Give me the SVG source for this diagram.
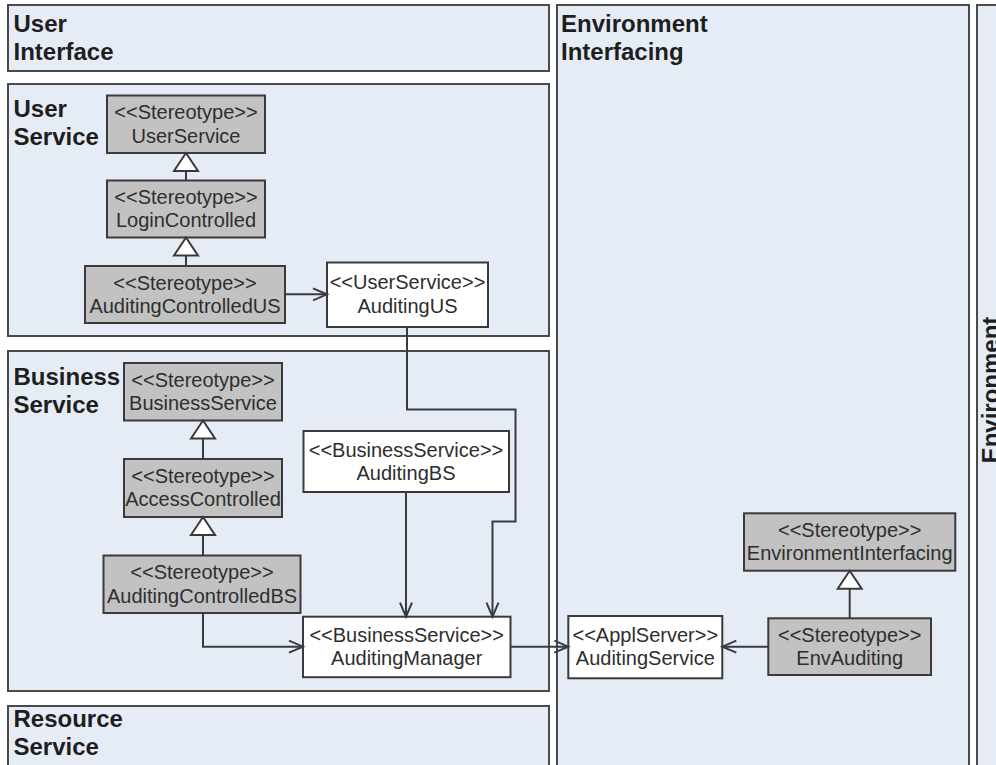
<svg xmlns="http://www.w3.org/2000/svg" width="996" height="765" viewBox="0 0 996 765">
  <defs>
    <style>
      .lane { fill: #e6ecf6; stroke: #4a4a4a; stroke-width: 2; }
      .lane-label { font-family: "Liberation Sans", Arial, sans-serif; font-size: 24px; font-weight: bold; fill: #1e1e1e; }
      .cls { stroke: #3a3a3a; stroke-width: 2; }
      .stereo { fill: #c2c2c2; }
      .plain { fill: #ffffff; }
      .cls-text { font-family: "Liberation Sans", Arial, sans-serif; font-size: 20px; fill: #2e2e2e; text-anchor: middle; }
      .conn { fill: none; stroke: #3a3a44; stroke-width: 2; }
      .gen { marker-end: url(#hollowTriangle); }
      .dep { marker-end: url(#openArrow); }
    </style>
    <!-- generalization: hollow triangle pointing at the parent -->
    <marker id="hollowTriangle" markerUnits="userSpaceOnUse" viewBox="-2 -2 22 28" markerWidth="22" markerHeight="28" refX="18" refY="12" orient="auto" overflow="visible">
      <path d="M0,0 L18,12 L0,24 Z" fill="#ffffff" stroke="#3a3a3a" stroke-width="2" stroke-linejoin="miter"/>
    </marker>
    <!-- dependency: open V arrowhead -->
    <marker id="openArrow" markerUnits="userSpaceOnUse" viewBox="-2 -2 18 16" markerWidth="18" markerHeight="16" refX="14" refY="6" orient="auto" overflow="visible">
      <path d="M0,0 L14,6 L0,12" fill="none" stroke="#3a3a44" stroke-width="2"/>
    </marker>
  </defs>

  <rect x="0" y="0" width="996" height="765" fill="#ffffff"/>

  <!-- layer lanes -->
  <g id="lane-user-interface">
    <rect class="lane" x="8" y="5" width="541" height="66"/>
    <text class="lane-label" x="13.5" y="32">User</text>
    <text class="lane-label" x="13.5" y="60">Interface</text>
  </g>
  <g id="lane-user-service">
    <rect class="lane" x="8" y="84" width="541" height="252"/>
    <text class="lane-label" x="13.5" y="116.5">User</text>
    <text class="lane-label" x="13.5" y="144.5">Service</text>
  </g>
  <g id="lane-business-service">
    <rect class="lane" x="8" y="351" width="541" height="340"/>
    <text class="lane-label" x="13.5" y="384.5">Business</text>
    <text class="lane-label" x="13.5" y="412.5">Service</text>
  </g>
  <g id="lane-resource-service">
    <rect class="lane" x="8" y="706" width="541" height="80"/>
    <text class="lane-label" x="13.5" y="727">Resource</text>
    <text class="lane-label" x="13.5" y="755">Service</text>
  </g>
  <g id="lane-environment-interfacing">
    <rect class="lane" x="557" y="5" width="412" height="780"/>
    <text class="lane-label" x="561" y="32">Environment</text>
    <text class="lane-label" x="561" y="60">Interfacing</text>
  </g>
  <g id="lane-environment">
    <rect class="lane" x="977" y="5" width="40" height="780"/>
    <text class="lane-label" text-anchor="middle" transform="translate(999,390) rotate(-90)">Environment</text>
  </g>

  <!-- classes -->
  <g id="n-userservice">
    <rect class="cls stereo" x="107" y="95.5" width="158" height="57.5"/>
    <text class="cls-text" x="186" y="119.3">&lt;&lt;Stereotype&gt;&gt;</text>
    <text class="cls-text" x="186" y="142.5">UserService</text>
  </g>
  <g id="n-logincontrolled">
    <rect class="cls stereo" x="107" y="180.5" width="158" height="57"/>
    <text class="cls-text" x="186" y="204">&lt;&lt;Stereotype&gt;&gt;</text>
    <text class="cls-text" x="186" y="227">LoginControlled</text>
  </g>
  <g id="n-auditingcontrolledus">
    <rect class="cls stereo" x="85" y="266" width="200" height="57"/>
    <text class="cls-text" x="185" y="289.5">&lt;&lt;Stereotype&gt;&gt;</text>
    <text class="cls-text" x="185" y="312.5">AuditingControlledUS</text>
  </g>
  <g id="n-auditingus">
    <rect class="cls plain" x="327" y="262.5" width="161" height="64.5"/>
    <text class="cls-text" x="407.5" y="288.5">&lt;&lt;UserService&gt;&gt;</text>
    <text class="cls-text" x="407.5" y="312.5">AuditingUS</text>
  </g>
  <g id="n-businessservice">
    <rect class="cls stereo" x="124" y="363" width="158" height="57.5"/>
    <text class="cls-text" x="203" y="386.8">&lt;&lt;Stereotype&gt;&gt;</text>
    <text class="cls-text" x="203" y="410">BusinessService</text>
  </g>
  <g id="n-accesscontrolled">
    <rect class="cls stereo" x="124" y="459" width="158" height="58"/>
    <text class="cls-text" x="203" y="483">&lt;&lt;Stereotype&gt;&gt;</text>
    <text class="cls-text" x="203" y="506.2">AccessControlled</text>
  </g>
  <g id="n-auditingcontrolledbs">
    <rect class="cls stereo" x="103.5" y="555.5" width="197" height="57.5"/>
    <text class="cls-text" x="202" y="579.3">&lt;&lt;Stereotype&gt;&gt;</text>
    <text class="cls-text" x="202" y="602.5">AuditingControlledBS</text>
  </g>
  <g id="n-auditingbs">
    <rect class="cls plain" x="303.5" y="431" width="205.5" height="61"/>
    <text class="cls-text" x="406" y="456.5">&lt;&lt;BusinessService&gt;&gt;</text>
    <text class="cls-text" x="406" y="479.5">AuditingBS</text>
  </g>
  <g id="n-auditingmanager">
    <rect class="cls plain" x="303" y="616.7" width="207.5" height="60.5"/>
    <text class="cls-text" x="406.7" y="642">&lt;&lt;BusinessService&gt;&gt;</text>
    <text class="cls-text" x="406.7" y="664.5">AuditingManager</text>
  </g>
  <g id="n-auditingservice">
    <rect class="cls plain" x="568.3" y="616" width="154" height="62.3"/>
    <text class="cls-text" x="645.3" y="642">&lt;&lt;ApplServer&gt;&gt;</text>
    <text class="cls-text" x="645.3" y="665">AuditingService</text>
  </g>
  <g id="n-environmentinterfacing">
    <rect class="cls stereo" x="744" y="513.3" width="211.3" height="57.4"/>
    <text class="cls-text" x="849.7" y="537">&lt;&lt;Stereotype&gt;&gt;</text>
    <text class="cls-text" x="849.7" y="560.2">EnvironmentInterfacing</text>
  </g>
  <g id="n-envauditing">
    <rect class="cls stereo" x="768.3" y="618.3" width="162.7" height="56.7"/>
    <text class="cls-text" x="849.7" y="641.8">&lt;&lt;Stereotype&gt;&gt;</text>
    <text class="cls-text" x="849.7" y="665">EnvAuditing</text>
  </g>

  <!-- relationships -->
  <g id="connectors">
    <path class="conn gen" d="M186,180.5 L186,153"/>
    <path class="conn gen" d="M186,266 L186,237.5"/>
    <path class="conn dep" d="M285,294.3 L327,294.3"/>
    <path class="conn dep" d="M407,327 L407,409.5 L515.5,409.5 L515.5,521.5 L492.5,521.5 L492.5,616.7"/>
    <path class="conn gen" d="M203,459 L203,420.5"/>
    <path class="conn gen" d="M203,555.5 L203,517"/>
    <path class="conn dep" d="M203,613 L203,646.7 L303,646.7"/>
    <path class="conn dep" d="M406,492 L406,616.7"/>
    <path class="conn dep" d="M510.5,646.7 L568.3,646.7"/>
    <path class="conn gen" d="M849.7,618.3 L849.7,570.7"/>
    <path class="conn dep" d="M768.3,646.7 L722.3,646.7"/>
  </g>
</svg>
